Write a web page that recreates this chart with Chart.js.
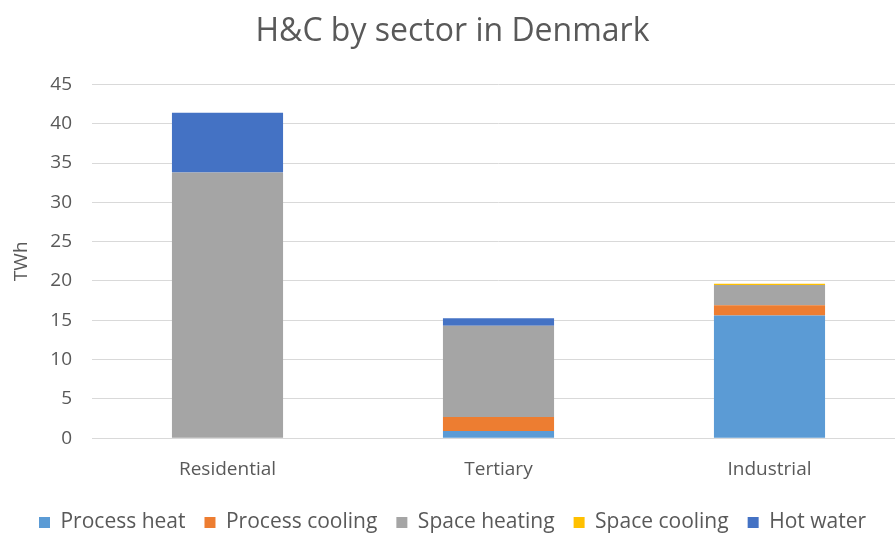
<!DOCTYPE html>
<html>
<head>
<meta charset="utf-8">
<script src="https://cdn.jsdelivr.net/npm/chart.js@4"></script>
<style>
  html, body { margin: 0; padding: 0; background: #fff; overflow: hidden; }
  #chart { display: block; }
</style>
</head>
<body>
<canvas id="chart" width="905" height="533"></canvas>
<script>
// categories and series (TWh)
const sectors = ['Residential', 'Tertiary', 'Industrial'];
const processHeat = [0, 0.9, 15.6];
const processCooling = [0, 1.8, 1.3];
const spaceHeating = [33.8, 11.6, 2.6];
const spaceCooling = [0, 0, 0.15];
const hotWater = [7.6, 0.95, 0];

const grey = '#595959';
const font = "'Open Sans', sans-serif";

new Chart(document.getElementById('chart'), {
    type: 'bar',
    data: {
        labels: sectors,
        datasets: [
            { label: 'Process heat', data: processHeat, backgroundColor: '#5B9BD5' },
            { label: 'Process cooling', data: processCooling, backgroundColor: '#ED7D31' },
            { label: 'Space heating', data: spaceHeating, backgroundColor: '#A5A5A5' },
            { label: 'Space cooling', data: spaceCooling, backgroundColor: '#FFC000' },
            { label: 'Hot water', data: hotWater, backgroundColor: '#4472C4' }
        ]
    },
    options: {
        responsive: false,
        animation: false,
        layout: { padding: { left: 0, right: 0, top: 13, bottom: -10 } },
        datasets: { bar: { categoryPercentage: 0.41, barPercentage: 1 } },
        plugins: {
            title: {
                display: true,
                text: 'H&C by sector in Denmark',
                color: grey,
                font: { family: font, size: 32, weight: 'normal' },
                padding: { top: 0, bottom: 33 }
            },
            legend: {
                position: 'bottom',
                labels: {
                    color: grey,
                    font: { family: font, size: 21 },
                    boxWidth: 11,
                    boxHeight: 11,
                    padding: 19
                }
            },
            tooltip: { enabled: false }
        },
        scales: {
            x: {
                stacked: true,
                grid: { display: false },
                border: { color: '#d9d9d9' },
                ticks: { color: grey, font: { family: font, size: 19 }, padding: 12 }
            },
            y: {
                stacked: true,
                min: 0,
                max: 45,
                afterFit: (scale) => { scale.width = 92; },
                ticks: { stepSize: 5, color: grey, font: { family: font, size: 19 }, padding: 20 },
                grid: { color: '#d9d9d9', drawTicks: false },
                border: { display: false },
                title: {
                    display: true,
                    text: 'TWh',
                    color: grey,
                    font: { family: font, size: 19 },
                    padding: { top: 10, bottom: 0 }
                }
            }
        }
    }
});
</script>
</body>
</html>
